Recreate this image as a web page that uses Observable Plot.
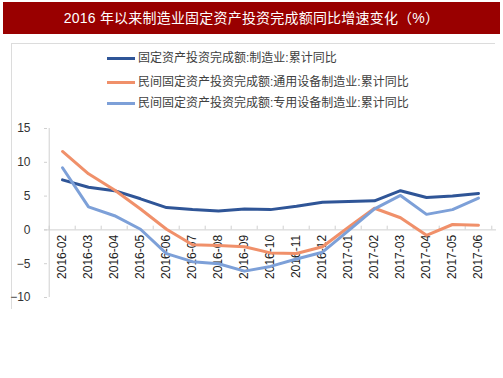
<!DOCTYPE html>
<html><head><meta charset="utf-8">
<script src="https://cdn.jsdelivr.net/npm/d3@7"></script>
<script src="https://cdn.jsdelivr.net/npm/@observablehq/plot@0.6"></script>
<style>
body{margin:0;width:503px;height:378px;position:relative;background:#fff;overflow:hidden;font-family:"Liberation Sans","Noto Sans CJK SC",sans-serif;}
#title{position:absolute;left:3px;top:2px;width:497px;height:32px;background:#990000;color:#fff;font-size:14px;line-height:32px;text-align:center;letter-spacing:0.2px;}
#frameTop{position:absolute;left:11px;top:43px;width:484px;height:0;border-top:1.5px solid #dcdcdc;}
#frameLeft{position:absolute;left:11px;top:43px;width:0;height:266px;border-left:1.5px solid #dcdcdc;}
#legend{position:absolute;left:107px;top:48px;font-size:12px;color:#404040;}
.li{position:absolute;left:0;white-space:nowrap;height:20px;line-height:20px;}
.sw{position:absolute;left:0;top:9px;width:28px;height:3px;}
.lt{position:absolute;left:31px;top:0;}
#chart{position:absolute;left:0;top:0;}
</style></head>
<body>
<div id="title">2016 年以来制造业固定资产投资完成额同比增速变化（%）</div>
<div id="frameTop"></div><div id="frameLeft"></div>
<div id="legend"></div>
<div id="chart"></div>
<script>
const months = ["2016-02","2016-03","2016-04","2016-05","2016-06","2016-07","2016-08","2016-09","2016-10","2016-11","2016-12","2017-01","2017-02","2017-03","2017-04","2017-05","2017-06"];
const seriesNames = ["固定资产投资完成额:制造业:累计同比","民间固定资产投资完成额:通用设备制造业:累计同比","民间固定资产投资完成额:专用设备制造业:累计同比"];
const manufacturing = [7.4,6.3,5.8,4.6,3.3,3.0,2.8,3.1,3.0,3.5,4.1,4.2,4.3,5.8,4.8,5.0,5.4];
const generalEquip = [11.6,8.3,5.9,3.1,0.1,-2.2,-2.3,-2.5,-3.4,-3.5,-2.5,0.4,3.2,1.8,-0.8,0.8,0.7];
const specialEquip = [9.2,3.4,2.1,0.1,-3.5,-4.7,-5.0,-6.1,-5.4,-4.3,-3.3,-0.1,3.1,5.1,2.3,3.0,4.7];
const yTicks = [-10,-5,0,5,10,15];
const colors = ["#2f5597","#f0906a","#7da0d8"];

const allSeries = [manufacturing, generalEquip, specialEquip];
const data = [];
allSeries.forEach((vals, s) => vals.forEach((v, i) => data.push({series: seriesNames[s], month: months[i], value: v})));

// legend
const legend = document.getElementById("legend");
const rowTops = [0, 24, 45];
seriesNames.forEach((n, i) => {
  const row = document.createElement("div");
  row.className = "li";
  row.style.top = rowTops[i] + "px";
  row.innerHTML = `<div class="sw" style="background:${colors[i]}"></div><div class="lt">${n}</div>`;
  legend.appendChild(row);
});

const step = (496 - 44) / months.length;
const chart = Plot.plot({
  width: 503,
  height: 378,
  marginLeft: 44,
  marginRight: 7,
  marginTop: 128,
  marginBottom: 81,
  style: {background: "transparent", fontFamily: "'Liberation Sans','Noto Sans CJK SC',sans-serif", fontSize: "12px", color: "#333"},
  x: {type: "point", domain: months, padding: 0.5, axis: null},
  y: {domain: [-10, 15], axis: null},
  color: {domain: seriesNames, range: colors},
  marks: [
    Plot.ruleX([months[0]], {y1: -10, y2: 15, dx: -step / 2, stroke: "#d0d0d0", strokeWidth: 1}),
    Plot.ruleY([0], {stroke: "#d0d0d0", strokeWidth: 1}),
    Plot.ruleX(months, {y1: 0, y2: 0.55, dx: -step / 2, stroke: "#d0d0d0"}),
    Plot.ruleX([months[months.length - 1]], {y1: 0, y2: 0.55, dx: step / 2, stroke: "#d0d0d0"}),
    Plot.axisY({ticks: yTicks, tickSize: 0, tickPadding: 14, label: null, fill: "#333", fontSize: 12}),
    Plot.axisY({ticks: yTicks, tickSize: -3, tickFormat: () => "", label: null, stroke: "#d0d0d0"}),
    Plot.text(months, {x: d => d, y: 0, text: d => d, rotate: -90, textAnchor: "end", dy: 5, fill: "#222", fontSize: 12}),
    Plot.line(data, {x: "month", y: "value", z: "series", stroke: "series", strokeWidth: 3, strokeLinejoin: "round", curve: "linear"})
  ]
});
document.getElementById("chart").appendChild(chart);
</script>
</body></html>
